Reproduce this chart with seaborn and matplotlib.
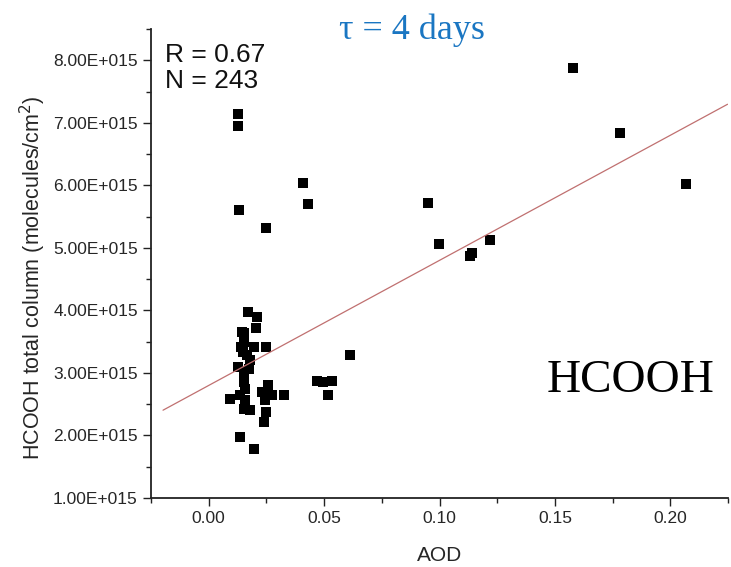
import numpy as np
import pandas as pd
import matplotlib
matplotlib.use("Agg")
import matplotlib.pyplot as plt
from matplotlib.ticker import FuncFormatter, MultipleLocator
import seaborn as sns

# AOD vs HCOOH total column
aod = [0.0129, 0.0129, 0.0130, 0.0250, 0.0410, 0.0430, 0.0950, 0.0998,
       0.1220, 0.1130, 0.1140, 0.1580, 0.1780, 0.2066, 0.0610,
       0.0170, 0.0210, 0.0206, 0.0144, 0.0155, 0.0198, 0.0250, 0.0151,
       0.0149, 0.0166, 0.0126, 0.0173, 0.0151, 0.0151, 0.0159, 0.0137,
       0.0094, 0.0159, 0.0151, 0.0180, 0.0230, 0.0255, 0.0245, 0.0250,
       0.0240, 0.0274, 0.0325, 0.0137, 0.0195, 0.0469, 0.0497, 0.0534,
       0.0515, 0.0140, 0.0180]
hcooh = [7.14, 6.95, 5.61, 5.32, 6.04, 5.70, 5.72, 5.06,
         5.13, 4.87, 4.91, 7.88, 6.83, 6.02, 3.28,
         3.98, 3.90, 3.72, 3.66, 3.64, 3.42, 3.42, 3.50,
         3.34, 3.28, 3.10, 3.07, 3.02, 2.86, 2.75, 2.64,
         2.59, 2.56, 2.43, 2.40, 2.70, 2.80, 2.56, 2.37,
         2.21, 2.64, 2.64, 1.97, 1.79, 2.87, 2.86, 2.87,
         2.64, 3.42, 3.20]  # x 1e15

# linear fit shown in the figure
fit_slope = 2.0e16
fit_intercept = 2.80e15
fit_x = [-0.0198, 0.2248]

df = pd.DataFrame({"AOD": aod, "HCOOH": np.array(hcooh) * 1e15})
fit_df = pd.DataFrame({"AOD": fit_x})
fit_df["HCOOH"] = fit_intercept + fit_slope * fit_df["AOD"]

sns.set_theme(style="ticks")
plt.rcParams["font.family"] = ["Liberation Sans", "DejaVu Sans"]

fig = plt.figure(figsize=(7.31, 5.67), dpi=100)
ax = fig.add_axes([0.2066, 0.1217, 0.7893, 0.8272])

sns.lineplot(data=fit_df, x="AOD", y="HCOOH", ax=ax, color="#c07070", lw=0.9)
sns.scatterplot(data=df, x="AOD", y="HCOOH", ax=ax, marker="s", color="black",
                s=48, linewidth=0)

ax.set_xlim(-0.025, 0.225)
ax.set_ylim(1e15, 8.5e15)
ax.xaxis.set_major_locator(MultipleLocator(0.05))
ax.xaxis.set_minor_locator(MultipleLocator(0.025))
ax.yaxis.set_major_locator(MultipleLocator(1e15))
ax.yaxis.set_minor_locator(MultipleLocator(0.5e15))


def sci_fmt(v, pos):
    mant, exp = f"{v:.2E}".split("E")
    return f"{mant}E{exp[0]}{int(exp[1:]):03d}"


ax.yaxis.set_major_formatter(FuncFormatter(sci_fmt))
ax.xaxis.set_major_formatter(FuncFormatter(lambda v, p: f"{v:.2f}"))

ax.tick_params(which="major", length=6, width=1, labelsize=12.5, color="#222222")
ax.tick_params(which="minor", length=3.5, width=1, color="#222222")
for side in ["left", "bottom"]:
    ax.spines[side].set_linewidth(1.3)
    ax.spines[side].set_color("#222222")
sns.despine(ax=ax)

ax.set_xlabel("AOD", fontsize=15, labelpad=14)
ax.set_ylabel("HCOOH total column (molecules/cm$^2$)", fontsize=15.5, labelpad=6)
ax.yaxis.set_label_coords(-0.178, 0.47)

ax.text(0.025, 0.97, "R = 0.67\nN = 243", transform=ax.transAxes, ha="left",
        va="top", fontsize=19, linespacing=1.1, color="#111111")
fig.text(412 / 731, 1 - 30 / 567, "τ = 4 days", ha="center", va="center",
         fontsize=26, color="#1a76c2", family=["Liberation Serif", "DejaVu Serif"])
ax.text(631 / 731, 1 - 381 / 567, "HCOOH", transform=fig.transFigure,
        ha="center", va="center", fontsize=34, color="black",
        family=["Liberation Serif", "DejaVu Serif"])

fig.savefig("out.png", dpi=100)
